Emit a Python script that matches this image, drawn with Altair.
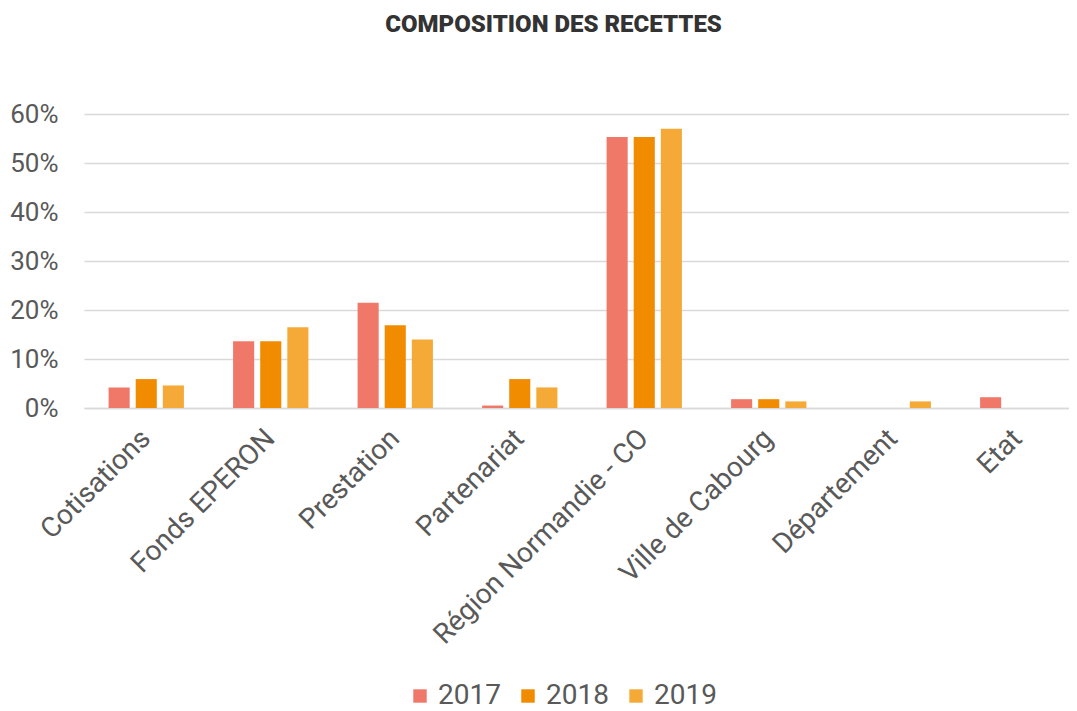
import altair as alt
import pandas as pd

categories = ["Cotisations", "Fonds EPERON", "Prestation", "Partenariat",
              "Région Normandie - CO", "Ville de Cabourg", "Département", "Etat"]
years = ["2017", "2018", "2019"]
v2017 = [4.2, 13.6, 21.5, 0.5, 55.3, 1.8, 0.0, 2.2]
v2018 = [5.9, 13.6, 16.9, 5.9, 55.3, 1.8, 0.0, 0.0]
v2019 = [4.6, 16.5, 14.0, 4.2, 57.0, 1.35, 1.35, 0.0]
colors = ["#F07868", "#F18B00", "#F5AA38"]

rows = []
for yr, vals in zip(years, [v2017, v2018, v2019]):
    for c, v in zip(categories, vals):
        rows.append({"cat": c, "year": yr, "val": v / 100})
df = pd.DataFrame(rows)

FONT = "Roboto"
GRID = "#d9d9d9"
TXT = "#595959"

chart = alt.Chart(df).mark_bar().encode(
    x=alt.X("cat:N", sort=categories, title=None,
            scale=alt.Scale(paddingInner=0.395, paddingOuter=0.1975, range=[0, 996]),
            axis=alt.Axis(labelAngle=-45, labelAlign="right", labelBaseline="middle",
                          labelFontSize=28, labelColor=TXT, labelFont=FONT,
                          ticks=False, domain=True, domainColor=GRID, domainWidth=1.5,
                          labelPadding=26, labelLimit=400)),
    xOffset=alt.XOffset("year:N", sort=years,
                        scale=alt.Scale(paddingInner=0.222, paddingOuter=0)),
    y=alt.Y("val:Q", title=None,
            scale=alt.Scale(domain=[0, 0.6], nice=False),
            axis=alt.Axis(format=".0%", values=[0, 0.1, 0.2, 0.3, 0.4, 0.5, 0.6],
                          labelFontSize=26, labelColor=TXT, labelFont=FONT,
                          ticks=False, domain=False, labelPadding=26,
                          gridColor=GRID, gridWidth=1.5)),
    color=alt.Color("year:N", sort=years, title=None,
                    scale=alt.Scale(domain=years, range=colors),
                    legend=alt.Legend(orient="none", direction="horizontal",
                                      legendX=322, legendY=568,
                                      symbolType="square", symbolSize=180,
                                      symbolStrokeWidth=0,
                                      labelFontSize=28, labelColor=TXT, labelFont=FONT,
                                      columnPadding=13, labelOffset=4)),
).properties(
    width=985, height=294,
    padding={"left": 76, "top": 106, "right": 0, "bottom": 303},
    autosize=alt.AutoSizeParams(type="none"),
    title=alt.TitleParams("COMPOSITION DES RECETTES", font=FONT, fontSize=24,
                          fontWeight=900, color="#333333", anchor="middle",
                          frame="group", dx=-23, offset=64),
).configure_view(stroke=None)

chart.save("out.html", embed_options={"renderer": "svg", "actions": False})
